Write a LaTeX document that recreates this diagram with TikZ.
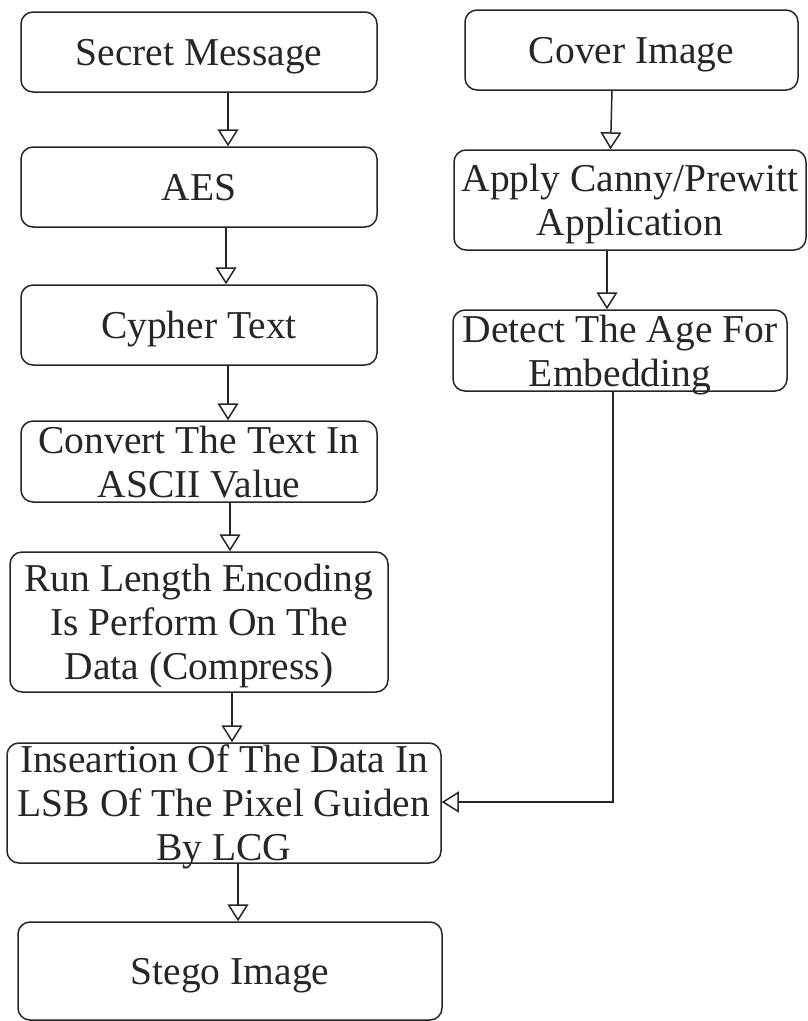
\documentclass[tikz,border=0pt]{standalone}
\usepackage{fontspec}
\setmainfont{Liberation Serif}
\usetikzlibrary{arrows.meta}
\begin{document}
\begin{tikzpicture}[x=1pt,y=-1pt,
  box/.style={draw=black!85, line width=1.5pt, rounded corners=12pt, fill=white,
    align=center, inner sep=0pt, text depth=0pt, font=\fontsize{39.5}{44}\selectfont, text=black!85},
  arr/.style={draw=black!85, line width=1.5pt,
    -{Triangle[open, width=21pt, length=17pt, line width=1.5pt]}}]
\useasboundingbox (0,0) rectangle (807,1021);
\fill[white] (0,0) rectangle (807,1021);
% left column
\node[box, minimum width=356pt, minimum height=80pt] (sm) at (199,52) {Secret Message};
\node[box, minimum width=356pt, minimum height=80pt] (aes) at (199,187) {AES};
\node[box, minimum width=356pt, minimum height=80pt] (cy) at (199,325) {Cypher Text};
\node[box, minimum width=356pt, minimum height=81pt] (cv) at (199,461.5) {Convert The Text In\\ASCII Value};
\node[box, minimum width=378pt, minimum height=140pt] (rl) at (199,622) {Run Length Encoding\\Is Perform On The\\Data (Compress)};
\node[box, minimum width=434pt, minimum height=120pt] (ins) at (224,803) {Inseartion Of The Data In\\LSB Of The Pixel Guiden\\By LCG};
\node[box, minimum width=424pt, minimum height=98pt] (st) at (230,971) {Stego Image};
% right column
\node[box, minimum width=333pt, minimum height=80pt] (ci) at (631.5,50) {Cover Image};
\node[box, minimum width=352pt, minimum height=100pt] (ca) at (630,200) {Apply Canny/Prewitt\\Application};
\node[box, minimum width=334pt, minimum height=81pt] (de) at (620,350.5) {Detect The Age For\\Embedding};
% connectors
\draw[arr] ([xshift=29pt]sm.south) -- ([xshift=29pt]aes.north);
\draw[arr] ([xshift=27pt]aes.south) -- ([xshift=27pt]cy.north);
\draw[arr] ([xshift=29pt]cy.south) -- ([xshift=29pt]cv.north);
\draw[arr] ([xshift=31pt]cv.south) -- ([xshift=31pt]rl.north);
\draw[arr] ([xshift=33pt]rl.south) -- ([xshift=8pt]ins.north);
\draw[arr] ([xshift=14pt]ins.south) -- ([xshift=8pt]st.north);
\draw[arr] ([xshift=-19.5pt]ci.south) -- ([xshift=-19.5pt]ca.north);
\draw[arr] ([xshift=-23pt]ca.south) -- ([xshift=-13pt]de.north);
\draw[arr] ([xshift=-7pt]de.south) |- ([yshift=1pt]ins.east);
\end{tikzpicture}
\end{document}
